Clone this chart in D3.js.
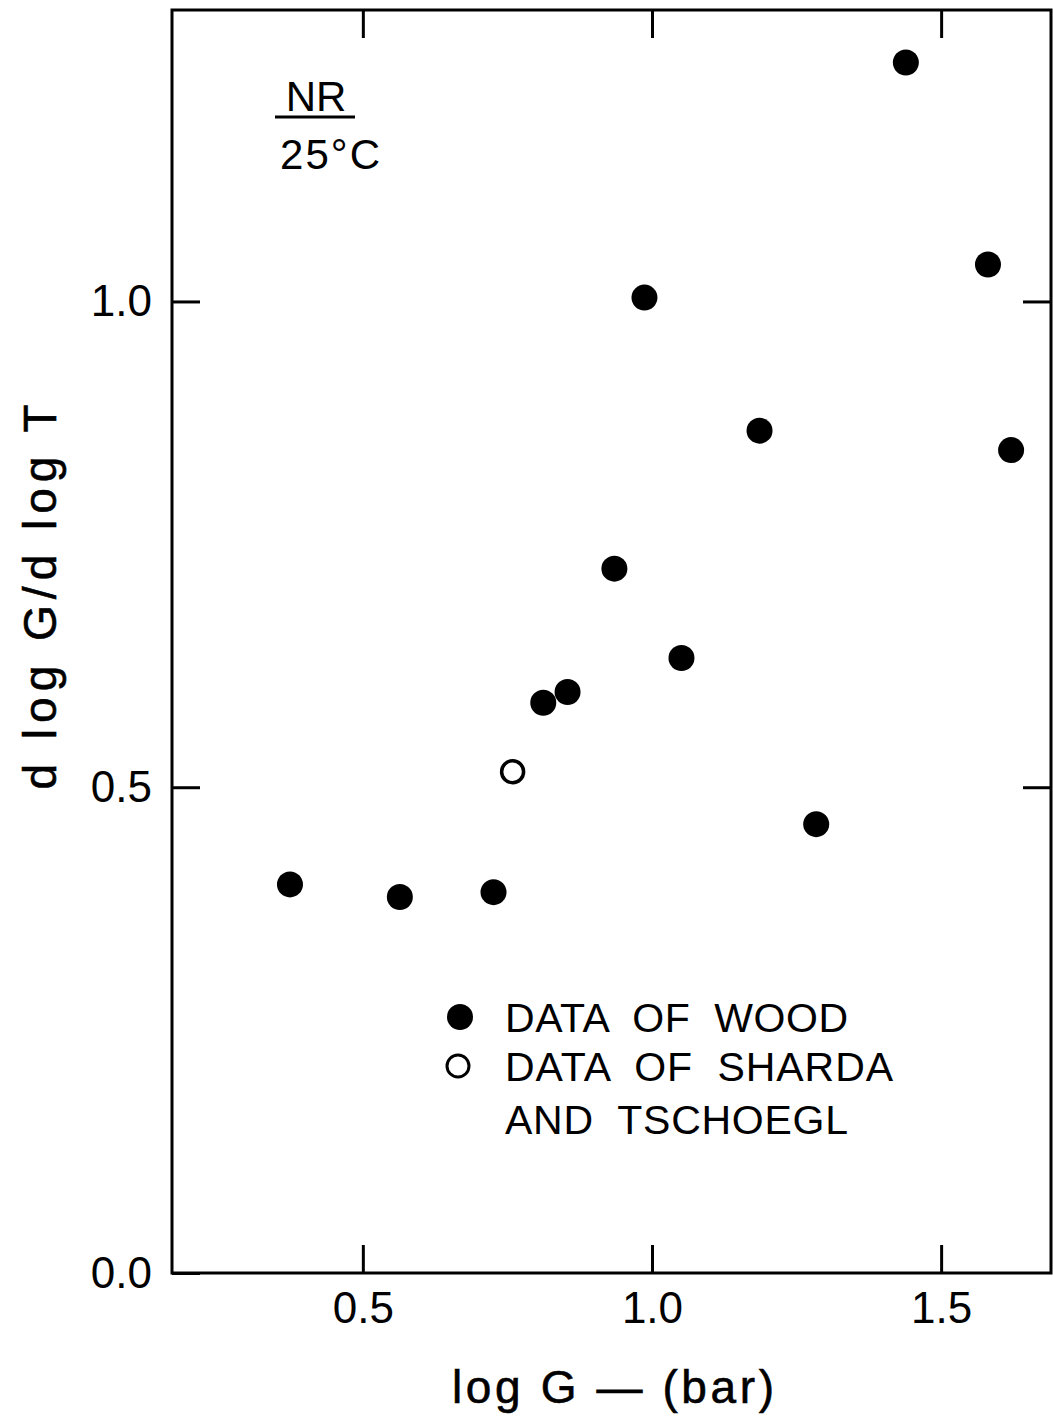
<!DOCTYPE html>
<html>
<head>
<meta charset="utf-8">
<script src="https://cdn.jsdelivr.net/npm/d3@7"></script>
<style>
  body { margin: 0; background: #fff; }
  svg { display: block; }
  text { font-family: "Liberation Sans", Arial, sans-serif; fill: #000; }
</style>
</head>
<body>
<div id="container"></div>
<script>
const w = 1053;
const h = 1420;
const margin = { top: 10, right: 2, bottom: 147, left: 172 };
const width = w - margin.left - margin.right;
const height = h - margin.top - margin.bottom;

// data of Wood (filled circles)
const woodLogG = [0.374, 0.564, 0.726, 0.812, 0.854, 0.935, 0.987, 1.051, 1.186, 1.284, 1.439, 1.581, 1.621];
const woodSlope = [0.400, 0.387, 0.392, 0.587, 0.598, 0.725, 1.004, 0.633, 0.867, 0.462, 1.246, 1.038, 0.847];

// data of Sharda and Tschoegl (open circle)
const shardaLogG = [0.759];
const shardaSlope = [0.516];

const xTicks = [0.5, 1.0, 1.5];
const yTicks = [0.0, 0.5, 1.0];
const legendLines = ["DATA  OF  WOOD", "DATA  OF  SHARDA", "AND  TSCHOEGL"];

const svg = d3.select('#container')
  .append('svg')
  .attr('width', w)
  .attr('height', h)
  .append('g')
  .attr('transform', `translate(${margin.left}, ${margin.top})`);

const xScale = d3.scaleLinear().domain([0.17, 1.69]).range([0, width]);
const yScale = d3.scaleLinear().domain([0, 1.3]).range([height, 0]);

const fmt = d3.format('.1f');
const tickLen = 28;

// frame
svg.append('rect')
  .attr('x', 0).attr('y', 0)
  .attr('width', width).attr('height', height)
  .attr('fill', 'none')
  .attr('stroke', '#000')
  .attr('stroke-width', 3);

const styleAxis = g => {
  g.select('.domain').remove();
  g.selectAll('line').attr('stroke', '#000').attr('stroke-width', 3);
  g.selectAll('text').style('font-size', '44px').attr('fill', '#000');
};

svg.append('g')
  .attr('transform', `translate(0, ${height})`)
  .call(d3.axisBottom(xScale).tickValues(xTicks).tickFormat(fmt)
    .tickSize(-tickLen).tickSizeOuter(0).tickPadding(19))
  .call(styleAxis);

svg.append('g')
  .call(d3.axisTop(xScale).tickValues(xTicks).tickFormat('')
    .tickSize(-tickLen).tickSizeOuter(0))
  .call(styleAxis);

svg.append('g')
  .call(d3.axisLeft(yScale).tickValues(yTicks).tickFormat(fmt)
    .tickSize(-tickLen).tickSizeOuter(0).tickPadding(20))
  .call(styleAxis);

svg.append('g')
  .attr('transform', `translate(${width}, 0)`)
  .call(d3.axisRight(yScale).tickValues(yTicks.filter(v => v > 0)).tickFormat('')
    .tickSize(-tickLen).tickSizeOuter(0))
  .call(styleAxis);

// axis titles
svg.append('text')
  .attr('x', 613 - margin.left)
  .attr('y', 1403 - margin.top)
  .attr('text-anchor', 'middle')
  .attr('textLength', 322)
  .attr('lengthAdjust', 'spacing')
  .style('font-size', '46px')
  .attr('stroke', '#000')
  .attr('stroke-width', 0.6)
  .text('log G \u2014 (bar)');

svg.append('text')
  .attr('transform', `translate(${56 - margin.left}, ${597 - margin.top}) rotate(-90)`)
  .attr('text-anchor', 'middle')
  .attr('textLength', 385)
  .attr('lengthAdjust', 'spacing')
  .style('font-size', '46px')
  .attr('stroke', '#000')
  .attr('stroke-width', 0.6)
  .text('d log G/d log T');

// NR / 25°C annotation
const ann = svg.append('g').attr('transform', `translate(${316 - margin.left}, 0)`);
ann.append('text')
  .attr('y', 111 - margin.top)
  .attr('text-anchor', 'middle')
  .style('font-size', '42px')
  .text('NR');
ann.append('line')
  .attr('x1', -41).attr('x2', 39)
  .attr('y1', 117 - margin.top).attr('y2', 117 - margin.top)
  .attr('stroke', '#000').attr('stroke-width', 3);
ann.append('text')
  .attr('y', 169 - margin.top)
  .attr('x', -36)
  .attr('textLength', 100)
  .attr('lengthAdjust', 'spacing')
  .style('font-size', '42px')
  .text('25\u00B0C');

// points
const wood = woodLogG.map((x, i) => ({ x, y: woodSlope[i] }));
const sharda = shardaLogG.map((x, i) => ({ x, y: shardaSlope[i] }));

svg.selectAll('.wood')
  .data(wood)
  .enter().append('circle')
  .attr('class', 'wood')
  .attr('cx', d => xScale(d.x))
  .attr('cy', d => yScale(d.y))
  .attr('r', 13)
  .attr('fill', '#000');

svg.selectAll('.sharda')
  .data(sharda)
  .enter().append('circle')
  .attr('class', 'sharda')
  .attr('cx', d => xScale(d.x))
  .attr('cy', d => yScale(d.y))
  .attr('r', 11)
  .attr('fill', 'none')
  .attr('stroke', '#000')
  .attr('stroke-width', 3.5);

// legend
const legend = svg.append('g').attr('transform', `translate(${-margin.left}, ${-margin.top})`);
legend.append('circle')
  .attr('cx', 460).attr('cy', 1017).attr('r', 13).attr('fill', '#000');
legend.append('circle')
  .attr('cx', 458).attr('cy', 1066).attr('r', 11)
  .attr('fill', 'none').attr('stroke', '#000').attr('stroke-width', 3);

const legendY = [1032, 1081, 1134];
const legendW = [343, 388, 343];
legend.selectAll('.leg')
  .data(legendLines)
  .enter().append('text')
  .attr('class', 'leg')
  .attr('x', 505)
  .attr('y', (d, i) => legendY[i])
  .attr('textLength', (d, i) => legendW[i])
  .attr('lengthAdjust', 'spacing')
  .style('font-size', '41px')
  .style('white-space', 'pre')
  .attr('xml:space', 'preserve')
  .text(d => d);
</script>
</body>
</html>
